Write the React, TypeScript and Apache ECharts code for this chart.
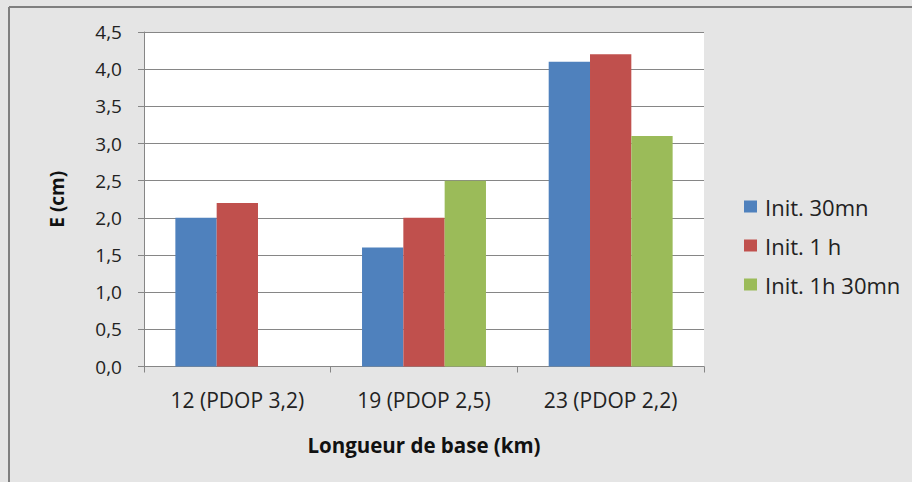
import React, { useEffect, useRef } from "react";
import * as echarts from "echarts";

const categories = ["12 (PDOP 3,2)", "19 (PDOP 2,5)", "23 (PDOP 2,2)"];
const seriesNames = ["Init. 30mn", "Init. 1 h", "Init. 1h 30mn"];
const init30mn = [2.0, 1.6, 4.1];
const init1h = [2.2, 2.0, 4.2];
const init1h30mn = [null, 2.5, 3.1];
const colors = ["#4f81bd", "#c0504d", "#9bbb59"];

const FONT = "'Open Sans', 'DejaVu Sans', sans-serif";

export default function App() {
  const ref = useRef<HTMLDivElement>(null);
  useEffect(() => {
    if (!ref.current) return;
    const chart = echarts.init(ref.current, undefined, { renderer: "svg" });
    const fmt = (v: number) => v.toFixed(1).replace(".", ",");
    chart.setOption({
      animation: false,
      backgroundColor: "#e5e5e5",
      graphic: [
        { type: "line", shape: { x1: 9, y1: 7, x2: 912, y2: 7 }, style: { stroke: "#7f7f7f", lineWidth: 2 }, z: 0 },
        { type: "line", shape: { x1: 9, y1: 7, x2: 9, y2: 482 }, style: { stroke: "#7f7f7f", lineWidth: 2 }, z: 0 },
      ],
      grid: {
        left: 144,
        top: 32,
        width: 560,
        height: 334.5,
        show: true,
        backgroundColor: "#ffffff",
        borderWidth: 0,
      },
      legend: {
        orient: "vertical",
        left: 744,
        top: 194,
        padding: 0,
        itemWidth: 13,
        itemHeight: 12,
        itemGap: 14,
        icon: "rect",
        textStyle: { fontFamily: FONT, fontSize: 22, color: "#222", lineHeight: 25, padding: [0, 0, 0, 3] },
        data: seriesNames,
      },
      xAxis: {
        type: "category",
        data: categories,
        name: "Longueur de base (km)",
        nameLocation: "middle",
        nameGap: 68,
        nameTextStyle: { fontFamily: FONT, fontSize: 20.5, fontWeight: "bold", color: "#111" },
        axisLine: { lineStyle: { color: "#868686", width: 1 } },
        axisTick: { show: true, length: 6, lineStyle: { color: "#868686" } },
        axisLabel: { fontFamily: FONT, fontSize: 21, color: "#222", margin: 23 },
      },
      yAxis: {
        type: "value",
        min: 0,
        max: 4.5,
        interval: 0.5,
        name: "E (cm)",
        nameLocation: "middle",
        nameGap: 78,
        nameRotate: 90,
        nameTextStyle: { fontFamily: FONT, fontSize: 19, fontWeight: "bold", color: "#111" },
        axisLine: { show: true, lineStyle: { color: "#868686", width: 1 } },
        axisTick: { show: true, length: 6, lineStyle: { color: "#868686" } },
        axisLabel: { fontFamily: FONT, fontSize: 19, color: "#222", margin: 22, formatter: fmt },
        splitLine: { lineStyle: { color: "#868686", width: 1 } },
      },
      series: [
        { name: seriesNames[0], type: "bar", data: init30mn, itemStyle: { color: colors[0] }, barGap: "0%", barCategoryGap: "33.6%" },
        { name: seriesNames[1], type: "bar", data: init1h, itemStyle: { color: colors[1] }, barGap: "0%", barCategoryGap: "33.6%" },
        { name: seriesNames[2], type: "bar", data: init1h30mn, itemStyle: { color: colors[2] }, barGap: "0%", barCategoryGap: "33.6%" },
      ],
    });
    return () => chart.dispose();
  }, []);
  return (
    <div
      ref={ref}
      style={{ position: "fixed", left: 0, top: 0, width: 912, height: 482 }}
    />
  );
}
